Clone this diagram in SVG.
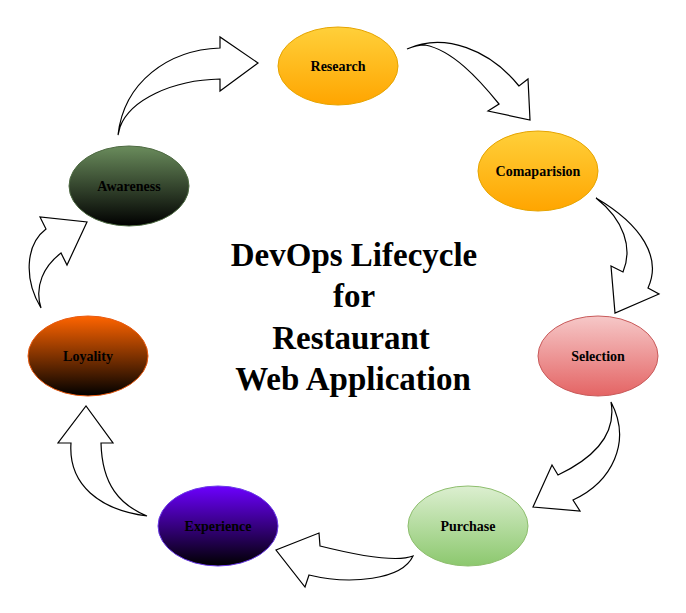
<svg xmlns="http://www.w3.org/2000/svg" width="686" height="613" viewBox="0 0 686 613">
<style>
.node{stroke-width:1}
.lbl{font-family:"Liberation Serif","Times New Roman",serif;font-weight:bold;font-size:14px;fill:#000;text-anchor:middle}
.title{font-family:"Liberation Serif","Times New Roman",serif;font-weight:bold;font-size:33px;fill:#000;text-anchor:middle}
.arr{fill:#fff;stroke:#000;stroke-width:1.2;stroke-linejoin:miter}
</style>
<defs>
<linearGradient id="gOrange" x1="0" y1="0" x2="0" y2="1"><stop offset="0" stop-color="#FFD03A"/><stop offset="1" stop-color="#FFA500"/></linearGradient>
<linearGradient id="gRed" x1="0" y1="0" x2="0" y2="1"><stop offset="0" stop-color="#F6C8C8"/><stop offset="1" stop-color="#E46464"/></linearGradient>
<linearGradient id="gGreen" x1="0" y1="0" x2="0" y2="1"><stop offset="0" stop-color="#DCEFD0"/><stop offset="1" stop-color="#8CC86E"/></linearGradient>
<linearGradient id="gPurple" x1="0" y1="0" x2="0" y2="1"><stop offset="0" stop-color="#6C00FF"/><stop offset="1" stop-color="#000000"/></linearGradient>
<linearGradient id="gBrown" x1="0" y1="0" x2="0" y2="1"><stop offset="0" stop-color="#FF6400"/><stop offset="1" stop-color="#000000"/></linearGradient>
<linearGradient id="gDark" x1="0" y1="0" x2="0" y2="1"><stop offset="0" stop-color="#6A8C5C"/><stop offset="1" stop-color="#000000"/></linearGradient>
</defs>
<rect width="686" height="613" fill="#fff"/>
<g id="connectors">
<path class="arr" d="M118,135 C 124,82 168,50 220,48 L220,37 L258,63 L220,91 L220,79 C 172,80 130,100 120,127 Z"/>
<path class="arr" d="M407,49 C 445,32 490,50 519,86 L528,79 L530,120 L488,111 L499,104 C 478,78 452,50 425,45 C 418,45 412,47 407,49 Z"/>
<path class="arr" d="M596,198 C 642,225 662,258 648,288 L659,294 L615,313 L611,266 L623,272 C 633,248 624,220 596,198 Z"/>
<path class="arr" d="M611,402 C 632,442 612,482 573,500 L580,511 L533,507 L552,465 L558,475 C 600,455 616,430 611,402 Z"/>
<path class="arr" d="M413,556 C 398,562 360,556 320,546 L319,533 L276,550 L305,587 L309,575 C 350,585 402,580 413,556 Z"/>
<path class="arr" d="M147,516 C 100,510 68,485 71,443 L58,443 L86,406 L113,443 L101,443 C 102,485 120,505 147,516 Z"/>
<path class="arr" d="M41,308 C 24,280 25,245 46,229 L40,217 L87,222 L67,265 L61,253 C 44,266 34,286 41,308 Z"/>
</g>
<g id="research"><ellipse class="node" cx="338" cy="66" rx="60" ry="39" fill="url(#gOrange)" stroke="#E6A400"/><text class="lbl" x="338" y="71">Research</text></g>
<g id="comaparision"><ellipse class="node" cx="538" cy="171" rx="60" ry="40" fill="url(#gOrange)" stroke="#E6A400"/><text class="lbl" x="538" y="176">Comaparision</text></g>
<g id="selection"><ellipse class="node" cx="598" cy="356" rx="60" ry="40" fill="url(#gRed)" stroke="#C85A5A"/><text class="lbl" x="598" y="361">Selection</text></g>
<g id="purchase"><ellipse class="node" cx="468" cy="526" rx="60" ry="40" fill="url(#gGreen)" stroke="#8EBE6E"/><text class="lbl" x="468" y="531">Purchase</text></g>
<g id="experience"><ellipse class="node" cx="218" cy="526" rx="60" ry="40" fill="url(#gPurple)" stroke="#6A3AE6"/><text class="lbl" x="218" y="531">Experience</text></g>
<g id="loyality"><ellipse class="node" cx="88" cy="356" rx="60" ry="40" fill="url(#gBrown)" stroke="#E85A10"/><text class="lbl" x="88" y="361">Loyality</text></g>
<g id="awareness"><ellipse class="node" cx="129" cy="186" rx="60" ry="40" fill="url(#gDark)" stroke="#4E6A42"/><text class="lbl" x="129" y="191">Awareness</text></g>
<g id="title">
<text class="title" x="354" y="266">DevOps Lifecycle</text>
<text class="title" x="354" y="307">for</text>
<text class="title" x="351" y="349">Restaurant</text>
<text class="title" x="353" y="390">Web Application</text>
</g>
</svg>
